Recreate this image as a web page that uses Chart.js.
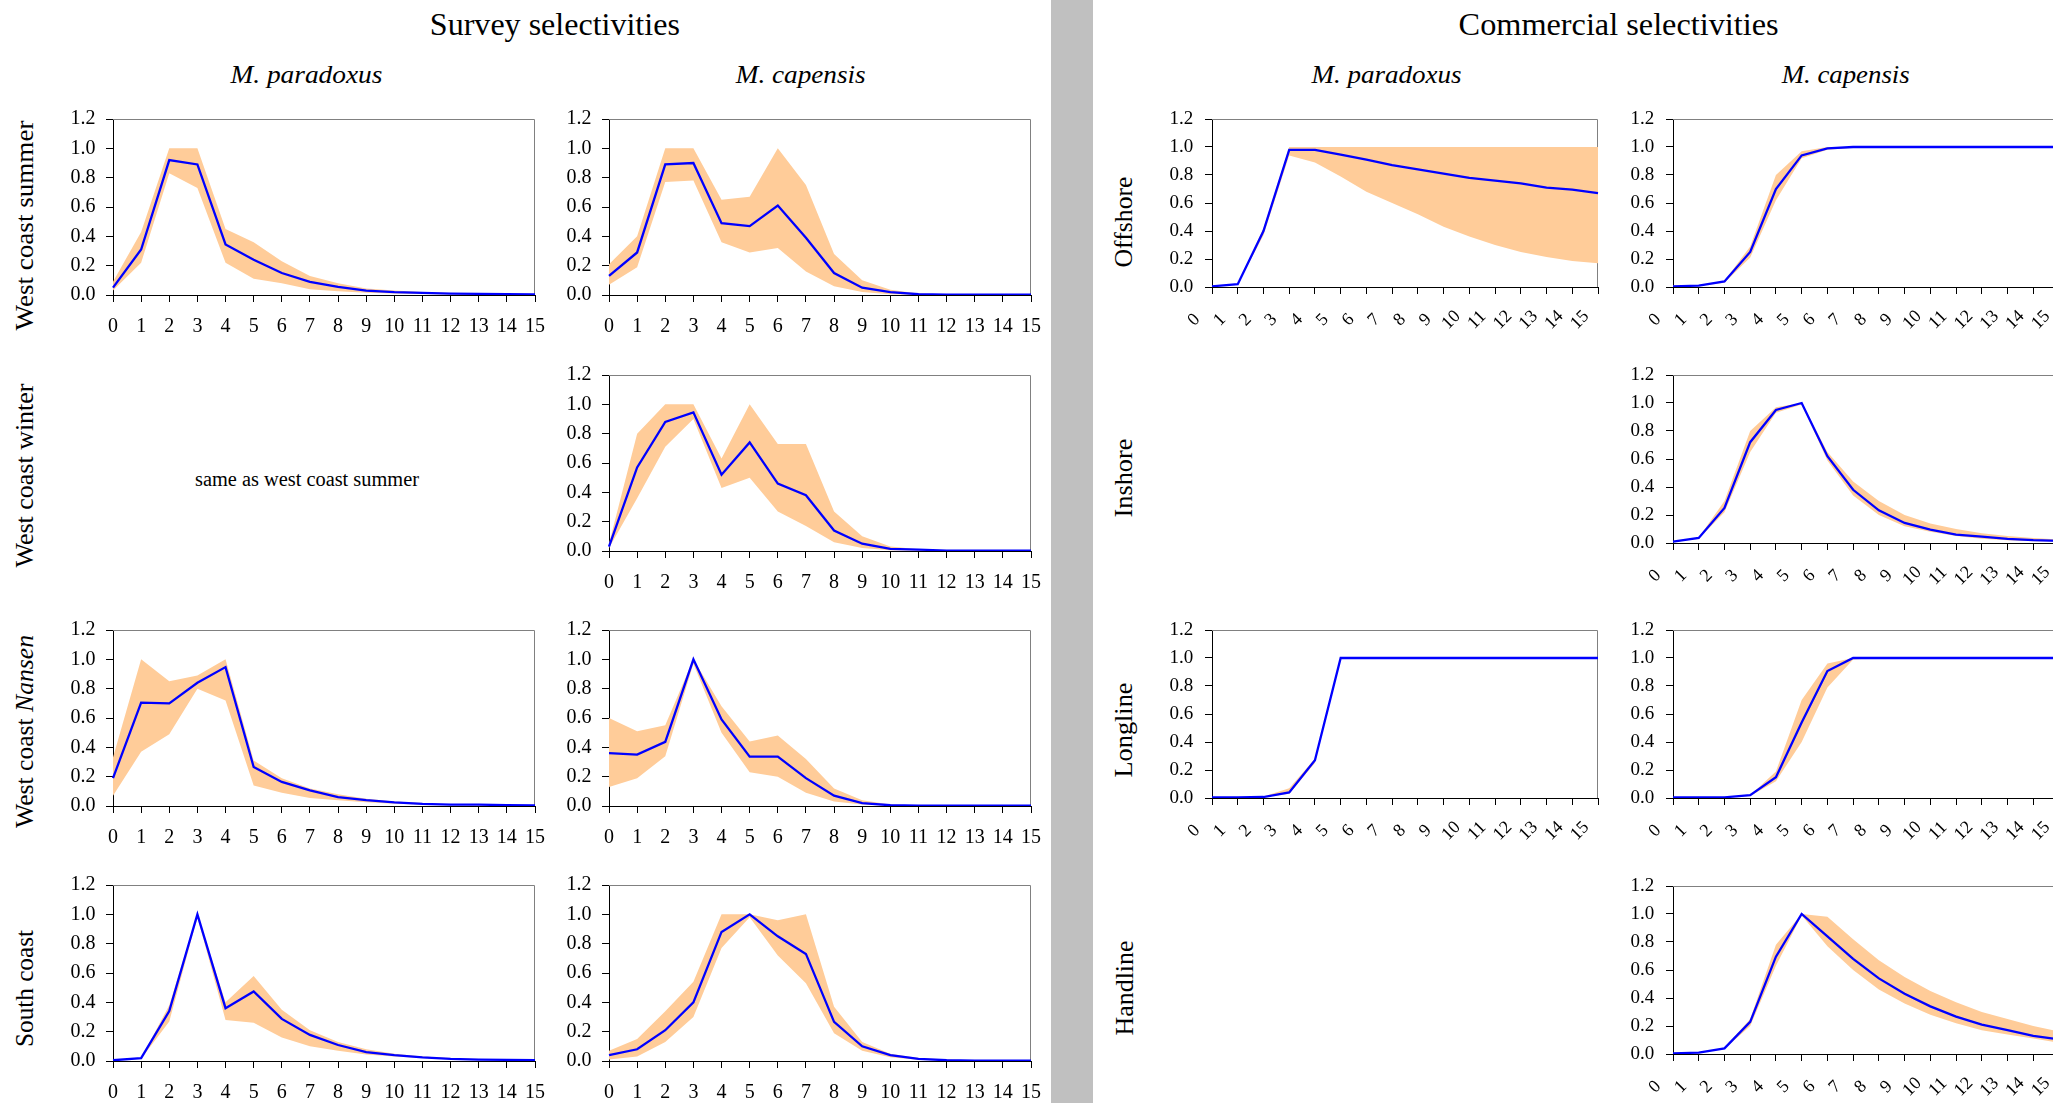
<!DOCTYPE html>
<html>
<head>
<meta charset="utf-8">
<title>Survey and commercial selectivities</title>
<script src="https://cdn.jsdelivr.net/npm/chart.js@4.4.1/dist/chart.umd.min.js"></script>
<style>
body { margin: 0; background: #fff; }
#page { position: relative; width: 2053px; height: 1103px; overflow: hidden; background: #fff;
        font-family: "Liberation Serif", "Times New Roman", serif; color: #000; }
.txt { position: absolute; white-space: nowrap; }
.panel { position: absolute; }
#divider { position: absolute; left: 1051px; top: 0; width: 42px; height: 1103px; background: #c0c0c0; }
</style>
</head>
<body>
<div id="page"><div id="divider"></div></div>
<script>
// ages on the x axis and the y tick values
const ages = ['0', '1', '2', '3', '4', '5', '6', '7', '8', '9', '10', '11', '12', '13', '14', '15'];
const yTicks = [0, 0.2, 0.4, 0.6, 0.8, 1.0, 1.2];

// ---- survey selectivities (mean, lower, upper)
const wcSummerParMean = [0.05, 0.31, 0.92, 0.89, 0.345, 0.24, 0.15, 0.09, 0.055, 0.03, 0.02, 0.015, 0.01, 0.008, 0.005, 0.004];
const wcSummerParLo   = [0.03, 0.22, 0.83, 0.73, 0.22, 0.11, 0.08, 0.04, 0.025, 0.015, 0.01, 0.007, 0.005, 0.004, 0.003, 0.002];
const wcSummerParHi   = [0.09, 0.43, 1.0, 1.0, 0.45, 0.36, 0.23, 0.13, 0.08, 0.045, 0.03, 0.02, 0.014, 0.01, 0.007, 0.005];

const wcSummerCapMean = [0.13, 0.29, 0.89, 0.90, 0.49, 0.47, 0.61, 0.39, 0.15, 0.05, 0.02, 0.005, 0.002, 0.002, 0.002, 0.002];
const wcSummerCapLo   = [0.07, 0.19, 0.77, 0.78, 0.36, 0.29, 0.32, 0.16, 0.06, 0.02, 0.005, 0.001, 0.001, 0.001, 0.001, 0.001];
const wcSummerCapHi   = [0.21, 0.40, 1.0, 1.0, 0.65, 0.67, 1.0, 0.75, 0.28, 0.10, 0.035, 0.01, 0.004, 0.003, 0.003, 0.003];

const wcWinterCapMean = [0.03, 0.57, 0.88, 0.945, 0.52, 0.74, 0.46, 0.38, 0.14, 0.05, 0.015, 0.01, 0.003, 0.003, 0.003, 0.003];
const wcWinterCapLo   = [0.02, 0.36, 0.71, 0.90, 0.43, 0.50, 0.27, 0.17, 0.06, 0.02, 0.005, 0.003, 0.002, 0.002, 0.002, 0.002];
const wcWinterCapHi   = [0.05, 0.80, 1.0, 1.0, 0.63, 1.0, 0.73, 0.73, 0.27, 0.10, 0.03, 0.012, 0.005, 0.004, 0.004, 0.004];

const nansenParMean = [0.19, 0.705, 0.70, 0.84, 0.947, 0.266, 0.164, 0.107, 0.061, 0.04, 0.025, 0.015, 0.01, 0.01, 0.005, 0.004];
const nansenParLo   = [0.07, 0.37, 0.49, 0.80, 0.72, 0.14, 0.09, 0.055, 0.04, 0.025, 0.015, 0.01, 0.006, 0.005, 0.003, 0.003];
const nansenParHi   = [0.33, 1.0, 0.85, 0.89, 1.0, 0.31, 0.19, 0.12, 0.08, 0.05, 0.03, 0.02, 0.012, 0.011, 0.007, 0.005];

const nansenCapMean = [0.36, 0.35, 0.437, 1.0, 0.59, 0.337, 0.337, 0.19, 0.07, 0.02, 0.005, 0.002, 0.002, 0.002, 0.002, 0.002];
const nansenCapLo   = [0.13, 0.19, 0.34, 0.97, 0.50, 0.23, 0.20, 0.09, 0.03, 0.01, 0.002, 0.001, 0.001, 0.001, 0.001, 0.001];
const nansenCapHi   = [0.60, 0.51, 0.55, 1.0, 0.68, 0.44, 0.48, 0.32, 0.12, 0.04, 0.01, 0.003, 0.003, 0.003, 0.003, 0.003];

const southParMean = [0.005, 0.02, 0.34, 1.0, 0.36, 0.474, 0.287, 0.178, 0.109, 0.06, 0.04, 0.025, 0.015, 0.01, 0.008, 0.005];
const southParLo   = [0.003, 0.015, 0.27, 0.98, 0.28, 0.26, 0.16, 0.10, 0.07, 0.045, 0.03, 0.02, 0.012, 0.008, 0.005, 0.004];
const southParHi   = [0.006, 0.02, 0.38, 1.0, 0.40, 0.58, 0.35, 0.21, 0.13, 0.08, 0.05, 0.03, 0.02, 0.013, 0.01, 0.006];

const southCapMean = [0.04, 0.08, 0.21, 0.40, 0.88, 1.0, 0.85, 0.73, 0.267, 0.10, 0.04, 0.015, 0.005, 0.002, 0.002, 0.002];
const southCapLo   = [0.01, 0.03, 0.13, 0.30, 0.77, 0.98, 0.72, 0.53, 0.19, 0.07, 0.025, 0.008, 0.003, 0.001, 0.001, 0.001];
const southCapHi   = [0.07, 0.15, 0.34, 0.54, 1.0, 1.0, 0.96, 1.0, 0.37, 0.13, 0.05, 0.02, 0.01, 0.004, 0.003, 0.003];

// ---- commercial selectivities
const offshoreParMean = [0.005, 0.02, 0.40, 0.98, 0.98, 0.945, 0.91, 0.87, 0.84, 0.81, 0.78, 0.76, 0.74, 0.71, 0.695, 0.67];
const offshoreParLo   = [0.005, 0.02, 0.37, 0.94, 0.89, 0.79, 0.68, 0.60, 0.52, 0.43, 0.36, 0.30, 0.25, 0.215, 0.185, 0.17];
const offshoreParHi   = [0.005, 0.02, 0.42, 1.0, 1.0, 1.0, 1.0, 1.0, 1.0, 1.0, 1.0, 1.0, 1.0, 1.0, 1.0, 1.0];

const offshoreCapMean = [0.005, 0.01, 0.04, 0.25, 0.70, 0.94, 0.99, 1.0, 1.0, 1.0, 1.0, 1.0, 1.0, 1.0, 1.0, 1.0];
const offshoreCapLo   = [0.005, 0.008, 0.03, 0.21, 0.62, 0.92, 0.98, 0.995, 1.0, 1.0, 1.0, 1.0, 1.0, 1.0, 1.0, 1.0];
const offshoreCapHi   = [0.01, 0.015, 0.045, 0.29, 0.80, 0.97, 1.0, 1.0, 1.0, 1.0, 1.0, 1.0, 1.0, 1.0, 1.0, 1.0];

const inshoreCapMean = [0.01, 0.036, 0.25, 0.72, 0.95, 1.0, 0.62, 0.38, 0.233, 0.143, 0.095, 0.06, 0.045, 0.03, 0.02, 0.015];
const inshoreCapLo   = [0.005, 0.03, 0.22, 0.65, 0.93, 0.99, 0.59, 0.34, 0.20, 0.12, 0.08, 0.05, 0.03, 0.02, 0.013, 0.01];
const inshoreCapHi   = [0.015, 0.04, 0.30, 0.80, 0.97, 1.0, 0.65, 0.44, 0.30, 0.20, 0.14, 0.10, 0.07, 0.05, 0.035, 0.025];

const longlineParMean = [0.005, 0.005, 0.007, 0.04, 0.27, 1.0, 1.0, 1.0, 1.0, 1.0, 1.0, 1.0, 1.0, 1.0, 1.0, 1.0];
const longlineParLo   = [0.005, 0.005, 0.005, 0.03, 0.25, 1.0, 1.0, 1.0, 1.0, 1.0, 1.0, 1.0, 1.0, 1.0, 1.0, 1.0];
const longlineParHi   = [0.005, 0.005, 0.01, 0.07, 0.28, 1.0, 1.0, 1.0, 1.0, 1.0, 1.0, 1.0, 1.0, 1.0, 1.0, 1.0];

const longlineCapMean = [0.005, 0.005, 0.005, 0.02, 0.148, 0.54, 0.907, 1.0, 1.0, 1.0, 1.0, 1.0, 1.0, 1.0, 1.0, 1.0];
const longlineCapLo   = [0.005, 0.005, 0.005, 0.015, 0.12, 0.40, 0.79, 0.99, 1.0, 1.0, 1.0, 1.0, 1.0, 1.0, 1.0, 1.0];
const longlineCapHi   = [0.005, 0.005, 0.005, 0.02, 0.19, 0.70, 0.96, 1.0, 1.0, 1.0, 1.0, 1.0, 1.0, 1.0, 1.0, 1.0];

const handlineCapMean = [0.005, 0.01, 0.04, 0.23, 0.695, 1.0, 0.84, 0.68, 0.54, 0.43, 0.34, 0.267, 0.21, 0.17, 0.13, 0.105];
const handlineCapLo   = [0.003, 0.008, 0.035, 0.20, 0.63, 0.99, 0.77, 0.60, 0.46, 0.36, 0.28, 0.22, 0.17, 0.14, 0.11, 0.08];
const handlineCapHi   = [0.005, 0.01, 0.045, 0.25, 0.78, 1.0, 0.98, 0.82, 0.67, 0.55, 0.45, 0.37, 0.30, 0.25, 0.20, 0.16];


const page = document.getElementById('page');

// fixed room round each plot area; PT and PR are bigger than what chart.js asks for the end labels
const YW = 60, PT = 26, PR = 28;
const FONT = '"Liberation Serif", serif';

// grey plot-area outline on top and right (axes are black)
const frame = {
    id: 'frame',
    beforeDatasetsDraw(chart) {
        const a = chart.chartArea, ctx = chart.ctx;
        ctx.save();
        ctx.strokeStyle = '#808080';
        ctx.lineWidth = 1;
        ctx.beginPath();
        ctx.moveTo(a.left, a.top + 0.5);
        ctx.lineTo(a.right - 0.5, a.top + 0.5);
        ctx.lineTo(a.right - 0.5, a.bottom);
        ctx.stroke();
        ctx.restore();
    }
};

// slanted age labels, centred below-left of each tick like the excel ones
const slantLabels = {
    id: 'slantLabels',
    afterDraw(chart, args, opts) {
        if (!opts.on) return;
        const xs = chart.scales.x, ctx = chart.ctx;
        ctx.save();
        ctx.font = opts.size + 'px ' + FONT;
        ctx.fillStyle = '#000';
        ctx.textAlign = 'center';
        ctx.textBaseline = 'middle';
        xs.ticks.forEach((t, i) => {
            ctx.save();
            ctx.translate(xs.getPixelForTick(i) + opts.dx, xs.top + opts.dy);
            ctx.rotate(-opts.angle * Math.PI / 180);
            ctx.fillText(xs.getLabelForValue(t.value), 0, 0);
            ctx.restore();
        });
        ctx.restore();
    }
};

// sizes for the two families of panels
const surveyStyle = { pw: 422, ph: 176, xh: 48, slanted: false, yFont: 20, xFont: 20, yPad: 10.5 };
const commStyle = { pw: 386, ph: 168, xh: 58, slanted: true, yFont: 19, xFont: 18, yPad: 11.7 };

function panel(left, top, st, mean, lo, hi) {
    const W = YW + st.pw + PR, H = PT + st.ph + st.xh;
    const box = document.createElement('div');
    box.className = 'panel';
    box.style.left = (left - YW) + 'px';
    box.style.top = (top - PT) + 'px';
    const cv = document.createElement('canvas');
    cv.width = W;
    cv.height = H;
    box.appendChild(cv);
    page.appendChild(box);

    new Chart(cv, {
        type: 'line',
        data: {
            labels: ages,
            datasets: [
                { data: mean, borderColor: '#0000ff', borderWidth: 2.3, pointRadius: 0, fill: false, tension: 0 },
                { data: hi, borderColor: 'rgba(0,0,0,0)', borderWidth: 1, pointRadius: 0, fill: '+1', backgroundColor: '#ffcc99', tension: 0 },
                { data: lo, borderColor: 'rgba(0,0,0,0)', borderWidth: 1, pointRadius: 0, fill: false, tension: 0 }
            ]
        },
        options: {
            responsive: false,
            animation: false,
            layout: { padding: { top: PT, right: PR, left: 0, bottom: 0 } },
            plugins: {
                legend: { display: false },
                tooltip: { enabled: false },
                slantLabels: { on: st.slanted, dx: -18, dy: 33, angle: 45, size: st.xFont }
            },
            scales: {
                x: {
                    type: 'category',
                    offset: false,
                    grid: { drawOnChartArea: false, color: '#000', tickLength: 7 },
                    border: { color: '#000', width: 1 },
                    ticks: { display: !st.slanted, color: '#000', font: { family: FONT, size: st.xFont },
                             autoSkip: false, maxRotation: 0, padding: 13 },
                    afterFit: s => { s.height = st.xh; }
                },
                y: {
                    min: 0,
                    max: 1.2,
                    grid: { drawOnChartArea: false, color: '#000', tickLength: 7 },
                    border: { color: '#000', width: 1 },
                    ticks: { color: '#000', font: { family: FONT, size: st.yFont }, padding: st.yPad, callback: v => v.toFixed(1) },
                    afterBuildTicks: s => { s.ticks = yTicks.map(v => ({ value: v })); },
                    afterFit: s => { s.width = YW; }
                }
            }
        },
        plugins: [frame, slantLabels]
    });
}

// horizontal text, centred on cx, fitted to the measured width
function label(html, cx, baseline, size, width, italic) {
    const d = document.createElement('div');
    d.className = 'txt';
    d.innerHTML = html;
    d.style.fontSize = size + 'px';
    d.style.lineHeight = size + 'px';
    if (italic) d.style.fontStyle = 'italic';
    d.style.top = (baseline - 0.8375 * size) + 'px';
    page.appendChild(d);
    const w = d.getBoundingClientRect().width;
    d.style.left = (cx - w / 2) + 'px';
    d.style.transform = 'scaleX(' + (width / w) + ')';
}

// row labels, read bottom to top
function rowLabel(html, cx, cy, size, length) {
    const d = document.createElement('div');
    d.className = 'txt';
    d.innerHTML = html;
    d.style.fontSize = size + 'px';
    d.style.lineHeight = size + 'px';
    page.appendChild(d);
    const w = d.getBoundingClientRect().width;
    d.style.left = (cx - w / 2) + 'px';
    d.style.top = (cy - size / 2) + 'px';
    d.style.transform = 'rotate(-90deg) scaleX(' + (length / w) + ')';
}

// ------- headings
label('Survey selectivities', 555, 34.3, 32, 250, false);
label('Commercial selectivities', 1619, 34.3, 32, 320, false);
label('M. paradoxus', 306, 83.3, 25, 152, true);
label('M. capensis', 801, 83.3, 25, 130, true);
label('M. paradoxus', 1386, 83.3, 25, 150, true);
label('M. capensis', 1846, 83.3, 25, 128, true);

rowLabel('West coast summer', 24.6, 225, 25, 210);
rowLabel('West coast winter', 24.6, 475, 25, 184);
rowLabel('West coast <i>Nansen</i>', 24.6, 731, 25, 193);
rowLabel('South coast', 24.6, 988, 25, 117);

rowLabel('Offshore', 1124.2, 222, 26, 91);
rowLabel('Inshore', 1124.2, 478, 26, 79);
rowLabel('Longline', 1124.2, 730, 26, 95);
rowLabel('Handline', 1124.2, 988, 26, 95);

label('same as west coast summer', 307, 486, 20, 224, false);

// ------- survey panels
panel(112.5, 119, surveyStyle, wcSummerParMean, wcSummerParLo, wcSummerParHi);
panel(608.5, 119, surveyStyle, wcSummerCapMean, wcSummerCapLo, wcSummerCapHi);
panel(608.5, 375, surveyStyle, wcWinterCapMean, wcWinterCapLo, wcWinterCapHi);
panel(112.5, 630, surveyStyle, nansenParMean, nansenParLo, nansenParHi);
panel(608.5, 630, surveyStyle, nansenCapMean, nansenCapLo, nansenCapHi);
panel(112.5, 885, surveyStyle, southParMean, southParLo, southParHi);
panel(608.5, 885, surveyStyle, southCapMean, southCapLo, southCapHi);

// ------- commercial panels
panel(1212, 119, commStyle, offshoreParMean, offshoreParLo, offshoreParHi);
panel(1672.5, 119, commStyle, offshoreCapMean, offshoreCapLo, offshoreCapHi);
panel(1672.5, 375, commStyle, inshoreCapMean, inshoreCapLo, inshoreCapHi);
panel(1212, 630, commStyle, longlineParMean, longlineParLo, longlineParHi);
panel(1672.5, 630, commStyle, longlineCapMean, longlineCapLo, longlineCapHi);
panel(1672.5, 885.7, commStyle, handlineCapMean, handlineCapLo, handlineCapHi);
</script>
</body>
</html>
